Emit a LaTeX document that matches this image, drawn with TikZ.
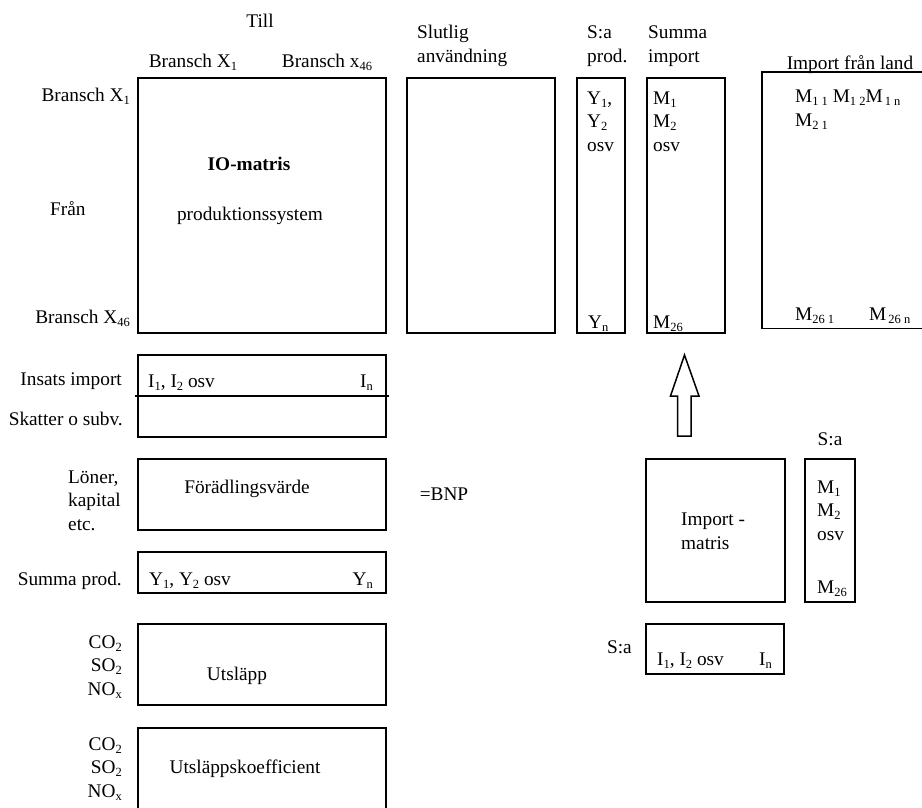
\documentclass[tikz,border=0pt]{standalone}
\usepackage{fontspec}
\setmainfont{Liberation Serif}
\usetikzlibrary{positioning}
\newcommand{\lowix}[1]{\raisebox{-3pt}{\fontsize{12.5}{12.5}\selectfont #1}}

\begin{document}
\begin{tikzpicture}[x=1pt, y=-1pt,
      font=\fontsize{19.3}{23.5}\selectfont,
      block/.style={
        rectangle,
        draw, line width=1.5pt,
        anchor=north west,
        inner sep=0pt
      },
      txt/.style={
        inner sep=0pt,
        align=left
      }
    ]
      \useasboundingbox (0,0) rectangle (922,807);
      % boxes
      \node[block, minimum width=248, minimum height=255] (io) at (137,77) {};
      \node[block, minimum width=148, minimum height=255] (slut) at (406,77) {};
      \node[block, minimum width=48, minimum height=255] (saprod) at (576,77) {};
      \node[block, minimum width=78, minimum height=255] (sumimp) at (646,77) {};
      \node[block, draw=none, minimum width=170, minimum height=255] (land) at (762,72) {};
      \draw[line width=1.5pt] (land.north east) -- (land.north west) -- (land.south west) -- (land.south east);
      \node[block, minimum width=248, minimum height=82] (insats) at (137,354) {};
      \draw[line width=1.5pt] ([xshift=-2pt]insats.west) -- ([xshift=2pt]insats.east);
      \node[block, minimum width=248, minimum height=71] (foradl) at (137,458) {};
      \node[block, minimum width=248, minimum height=41] (sumprod) at (137,551) {};
      \node[block, minimum width=248, minimum height=81] (utsl) at (137,623) {};
      \node[block, minimum width=248, minimum height=90] (koef) at (137,727) {};
      \node[block, minimum width=139, minimum height=143] (impmat) at (645,458) {};
      \node[block, minimum width=50, minimum height=143] (sacol) at (804,458) {};
      \node[block, minimum width=138, minimum height=50] (sarow) at (645,623) {};

      % headers (multi-line texts sit on their last baseline)
      \node[txt, anchor=base] (till) at (260,27) {Till};
      \node[txt, anchor=base] (hbx1) at (193,67) {Bransch X\lowix{1}};
      \node[txt, anchor=base] (hbx46) at (327,67) {Bransch x\lowix{46}};
      \node[txt, anchor=base west] (hslut) at (417,62) {Slutlig\\användning};
      \node[txt, anchor=base west] (hsaprod) at (587,62) {S:a\\prod.};
      \node[txt, anchor=base west] (hsumimp) at (648,62) {Summa\\import};
      \node[txt, anchor=base] (hland) at (850,69) {Import från land};

      % row labels
      \node[txt, anchor=base east] (rbx1) at (130,101) {Bransch X\lowix{1}};
      \node[txt, anchor=base west] (fran) at (50,215) {Från};
      \node[txt, anchor=base east] (rbx46) at (130,323) {Bransch X\lowix{46}};
      \node[txt, anchor=base east] (rinsats) at (122,385) {Insats import};
      \node[txt, anchor=base east] (rskatt) at (123,425) {Skatter o subv.};
      \node[txt, anchor=base west] (rloner) at (68,530) {Löner,\\kapital\\etc.};
      \node[txt, anchor=base east] (rsumprod) at (122,585) {Summa prod.};
      \node[txt, anchor=base east, align=right] (rgas) at (122,695) {CO\lowix{2}\\SO\lowix{2}\\NO\lowix{x}};
      \node[txt, anchor=base east, align=right] (rgaskoef) at (122,797) {CO\lowix{2}\\SO\lowix{2}\\NO\lowix{x}};

      % box contents
      \node[txt, anchor=base] (iotitle) at (249,170) {\bfseries IO-matris};
      \node[txt, anchor=base] (iosub) at (250,220) {produktionssystem};
      \node[txt, anchor=base west] (saprodtop) at (587,151) {Y\lowix{1},\\Y\lowix{2}\\osv};
      \node[txt, anchor=base west] (saprodbot) at (588,328) {Y\lowix{n}};
      \node[txt, anchor=base west] (sumimptop) at (653,151) {M\lowix{1}\\M\lowix{2}\\osv};
      \node[txt, anchor=base west] (sumimpbot) at (653,328) {M\lowix{26}};
      \node[txt, anchor=base west] (landtop) at (795,126) {M\lowix{1 1} M\lowix{1 2}M\lowix{\,1 n}\\M\lowix{2 1}};
      \node[txt, anchor=base west] (landbl) at (795,320) {M\lowix{26 1}};
      \node[txt, anchor=base west] (landbr) at (869,320) {M\lowix{\,26 n}};
      \node[txt, anchor=base west] (insatsl) at (148,387) {I\lowix{1}, I\lowix{2} osv};
      \node[txt, anchor=base east] (insatsr) at (373,387) {I\lowix{n}};
      \node[txt, anchor=base] (foradltxt) at (247,493) {Förädlingsvärde};
      \node[txt, anchor=base] (bnp) at (444,500) {=BNP};
      \node[txt, anchor=base west] (sumprodl) at (149,585) {Y\lowix{1}, Y\lowix{2} osv};
      \node[txt, anchor=base east] (sumprodr) at (373,585) {Y\lowix{n}};
      \node[txt, anchor=base] (utsltxt) at (237,680) {Utsläpp};
      \node[txt, anchor=base] (koeftxt) at (245,773) {Utsläppskoefficient};

      % import side
      \node[txt, anchor=base west] (impmattxt) at (681,549) {Import -\\matris};
      \node[txt, anchor=base] (sacolhead) at (830,445) {S:a};
      \node[txt, anchor=base west] (sacoltop) at (817,540) {M\lowix{1}\\M\lowix{2}\\osv};
      \node[txt, anchor=base west] (sacolbot) at (817,593) {M\lowix{26}};
      \node[txt, anchor=base east] (sarowhead) at (632,653) {S:a};
      \node[txt, anchor=base west] (sarowl) at (657,665) {I\lowix{1}, I\lowix{2} osv};
      \node[txt, anchor=base east] (sarowr) at (772,665) {I\lowix{n}};

      % hollow arrow up to Summa import
      \coordinate (arrfoot) at (684.5,436);
      \draw[line width=1.5pt, line join=miter] (arrfoot) ++(-7,0) -- ++(0,-40) -- ++(-7,0)
        -- (684.5,355) -- (699,396) -- ++(-8,0) -- ++(0,40) -- cycle;
    \end{tikzpicture}
\end{document}
